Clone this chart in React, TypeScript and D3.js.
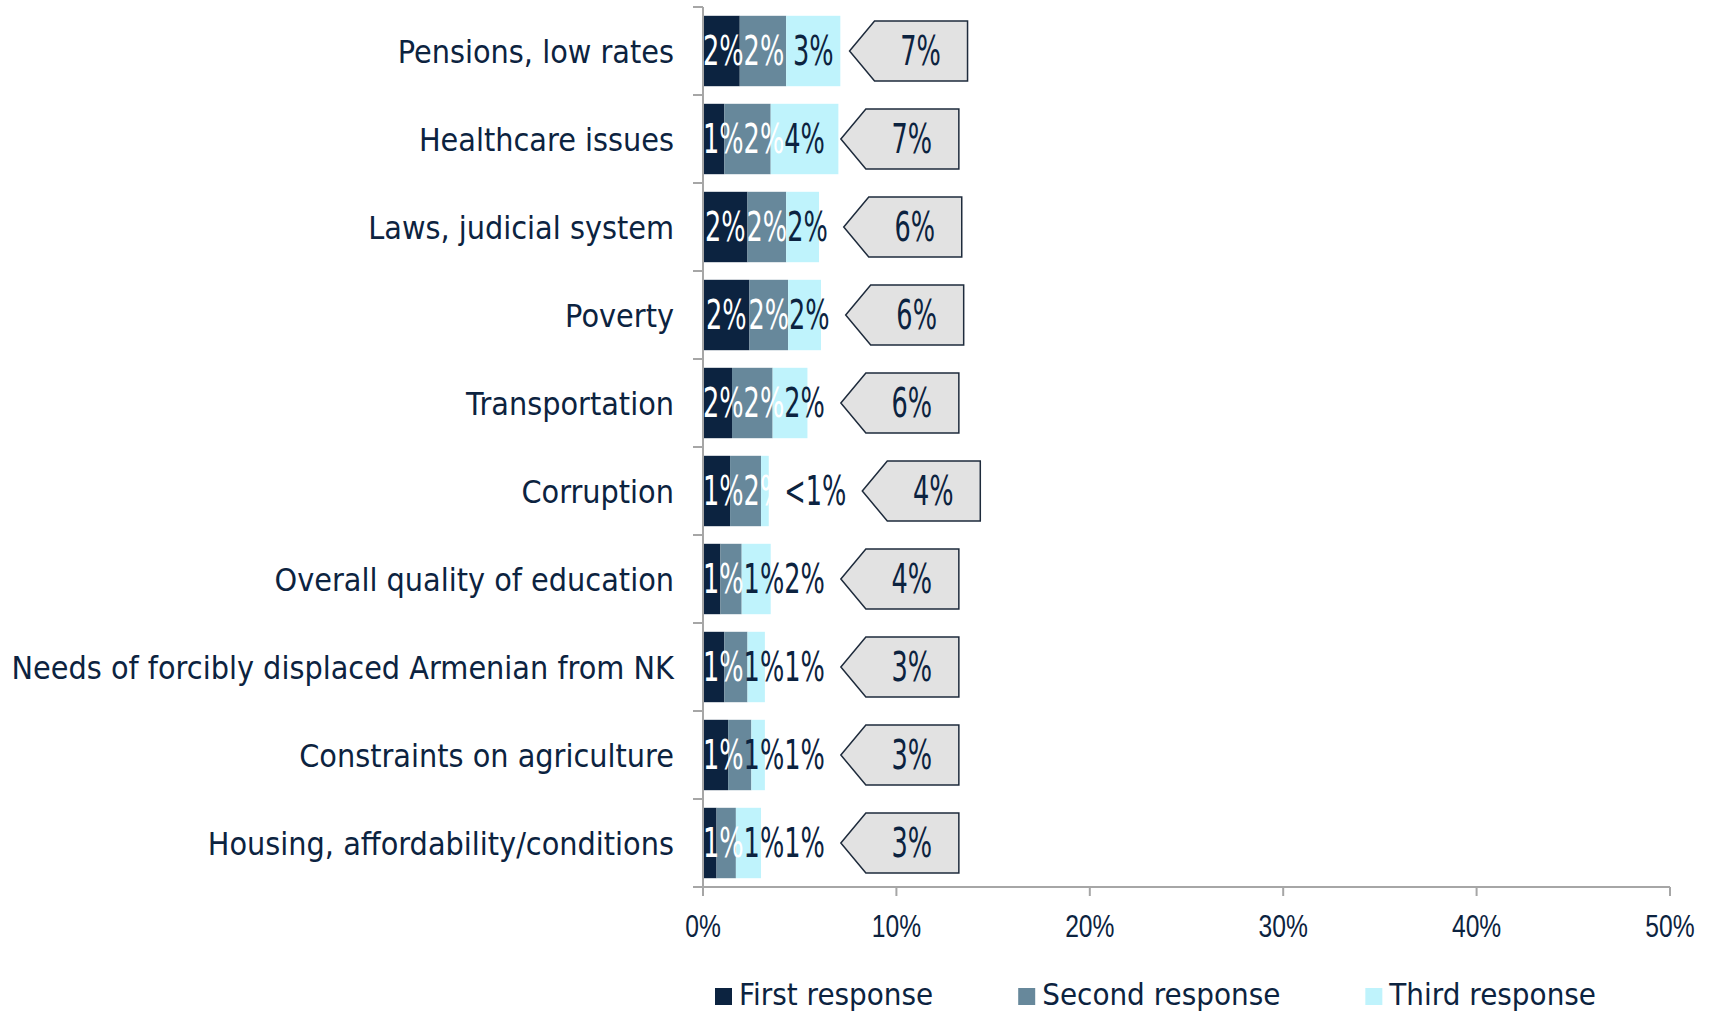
import React, { useEffect, useRef } from "react";
import * as d3 from "d3";

// categories, top to bottom
const categories = [
  "Pensions, low rates",
  "Healthcare issues",
  "Laws, judicial system",
  "Poverty",
  "Transportation",
  "Corruption",
  "Overall quality of education",
  "Needs of forcibly displaced Armenian from NK",
  "Constraints on agriculture",
  "Housing, affordability/conditions",
];

// values in %
const firstResponse = [1.9, 1.1, 2.3, 2.4, 1.5, 1.4, 0.9, 1.1, 1.3, 0.7];
const secondResponse = [2.4, 2.4, 2.0, 2.0, 2.1, 1.6, 1.1, 1.2, 1.2, 1.0];
const thirdResponse = [2.8, 3.5, 1.7, 1.7, 1.8, 0.4, 1.5, 0.9, 0.7, 1.3];

// labels as printed on the chart
const firstLabels = ["2%", "1%", "2%", "2%", "2%", "1%", "1%", "1%", "1%", "1%"];
const secondLabels = ["2%", "2%", "2%", "2%", "2%", "2%", "1%", "1%", "1%", "1%"];
const thirdLabels = ["3%", "4%", "2%", "2%", "2%", "<1%", "2%", "1%", "1%", "1%"];
const totalLabels = ["7%", "7%", "6%", "6%", "6%", "4%", "4%", "3%", "3%", "3%"];

const seriesNames = ["First response", "Second response", "Third response"];
const xTicks = [0, 10, 20, 30, 40, 50];

const width = 1712;
const height = 1013;
const margin = { top: 7, right: 42, bottom: 126, left: 703 };
const colors = ["#0c2340", "#67889b", "#bff3fc"];
const navy = "#0c2340";
const axisGray = "#a6a6a6";
const dejavu = "'DejaVu Sans', Verdana, sans-serif";

export default function App() {
  const svgRef = useRef<SVGSVGElement>(null);

  useEffect(() => {
    const svg = d3.select(svgRef.current);
    svg.selectAll("*").remove();

    const x = d3.scaleLinear().domain([0, 50]).range([margin.left, width - margin.right]);
    const y = d3.scaleBand()
      .domain(categories)
      .range([margin.top, height - margin.bottom])
      .paddingInner(0.2)
      .paddingOuter(0.1);
    const x0 = x(0);
    const yBottom = height - margin.bottom;

    // text helper: horizontally squeezed text, like the original
    const addText = (g: any, txt: string, tx: number, ty: number, size: number, family: string, sx: number, anchor: string, fill: string) => {
      return g.append("text")
        .attr("transform", `translate(${tx},${ty}) scale(${sx},1)`)
        .attr("text-anchor", anchor)
        .style("font-family", family)
        .style("font-size", size + "px")
        .attr("fill", fill)
        .text(txt);
    };

    const rows = categories.map((c, i) => ({
      cat: c,
      s0: firstResponse[i],
      s1: secondResponse[i],
      s2: thirdResponse[i],
    }));
    const stack = d3.stack<any>().keys(["s0", "s1", "s2"]);
    const series = stack(rows);

    // bars
    series.forEach((s, k) => {
      svg.append("g")
        .selectAll("rect")
        .data(s)
        .enter()
        .append("rect")
        .attr("x", d => x(d[0]))
        .attr("y", d => y(d.data.cat)!)
        .attr("width", d => x(d[1]) - x(d[0]))
        .attr("height", y.bandwidth())
        .attr("fill", colors[k]);
    });

    // axes
    const axes = svg.append("g");
    axes.append("line")
      .attr("x1", x0).attr("x2", x0)
      .attr("y1", margin.top).attr("y2", yBottom + 9)
      .attr("stroke", axisGray).attr("stroke-width", 2);
    axes.append("line")
      .attr("x1", x0 - 10).attr("x2", x(50))
      .attr("y1", yBottom).attr("y2", yBottom)
      .attr("stroke", axisGray).attr("stroke-width", 2);
    const bounds = categories.map(c => y(c)! - y.step() * 0.1);
    axes.selectAll("line.ytick")
      .data(bounds)
      .enter()
      .append("line")
      .attr("class", "ytick")
      .attr("x1", x0 - 10).attr("x2", x0)
      .attr("y1", d => d).attr("y2", d => d)
      .attr("stroke", axisGray).attr("stroke-width", 2);
    axes.selectAll("line.xtick")
      .data(xTicks)
      .enter()
      .append("line")
      .attr("class", "xtick")
      .attr("x1", d => x(d)).attr("x2", d => x(d))
      .attr("y1", yBottom).attr("y2", yBottom + 9)
      .attr("stroke", axisGray).attr("stroke-width", 2);
    xTicks.forEach(t => {
      addText(axes, t + "%", x(t), yBottom + 50, 32, "'Liberation Sans', Arial, sans-serif", 0.77, "middle", navy);
    });

    // category labels
    categories.forEach(c => {
      addText(svg, c, x0 - 29, y(c)! + y.bandwidth() / 2 + 11.5, 32, dejavu, 0.9, "end", navy);
    });

    // data labels and callouts
    const labelSets = [firstLabels, secondLabels, thirdLabels];
    const lab = svg.append("g");
    rows.forEach((r, i) => {
      const cy = y(r.cat)! + y.bandwidth() / 2;
      let prevRight = x0;
      series.forEach((s, k) => {
        const d = s[i];
        const segStart = x(d[0]);
        const segEnd = x(d[1]);
        const t = addText(lab, labelSets[k][i], 0, cy + 14, 40, dejavu, 0.64, "start", navy);
        const w = (t.node() as SVGTextElement).getComputedTextLength() * 0.64;
        // centred in the segment, pushed right when the previous label is in the way
        const left = Math.max((segStart + segEnd) / 2 - w / 2, prevRight);
        const center = left + w / 2;
        const onDark = k < 2 && center <= x(series[1][i][1]) + 5;
        t.attr("transform", `translate(${left},${cy + 14}) scale(0.64,1)`)
          .attr("fill", onDark ? "#ffffff" : navy);
        prevRight = left + w;
      });

      // callout with the total
      const tip = prevRight + 16;
      const pts: [number, number][] = [
        [tip, cy],
        [tip + 25, cy - 30],
        [tip + 118, cy - 30],
        [tip + 118, cy + 30],
        [tip + 25, cy + 30],
      ];
      lab.append("path")
        .attr("d", d3.line()(pts) + "Z")
        .attr("fill", "#e2e2e2")
        .attr("stroke", "#1e2b3c")
        .attr("stroke-width", 1.5);
      addText(lab, totalLabels[i], tip + 71, cy + 14, 40, dejavu, 0.64, "middle", navy);
    });

    // legend
    const leg = svg.append("g");
    let lx = 715;
    seriesNames.forEach((name, k) => {
      leg.append("rect")
        .attr("x", lx).attr("y", 988)
        .attr("width", 17).attr("height", 17)
        .attr("fill", colors[k]);
      const t = addText(leg, name, lx + 24, 1005, 30, dejavu, 0.93, "start", navy);
      const w = (t.node() as SVGTextElement).getComputedTextLength() * 0.93;
      lx = lx + 24 + w + 85;
    });
  }, []);

  return (
    <div>
      <svg
        ref={svgRef}
        width={width}
        height={height}
        style={{ position: "absolute", left: 0, top: 0, background: "#ffffff" }}
      />
    </div>
  );
}
